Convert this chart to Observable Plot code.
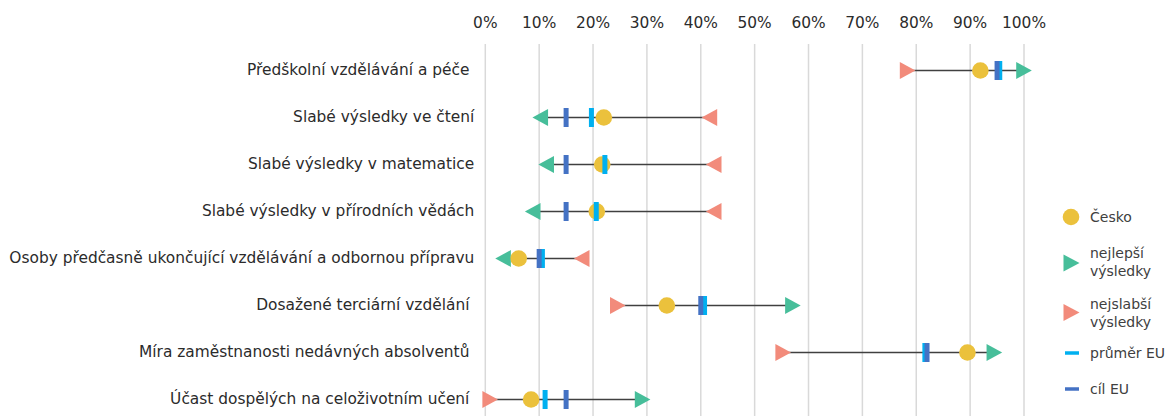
<!DOCTYPE html>
<html><head><meta charset="utf-8">
<script src="https://cdn.jsdelivr.net/npm/d3@7"></script>
<script src="https://cdn.jsdelivr.net/npm/@observablehq/plot@0.6"></script>
<style>
body{margin:0;background:#fff;}
#wrap{position:relative;width:1168px;height:416px;overflow:hidden;}
#legend{position:absolute;left:0;top:0;}
</style></head><body><div id="wrap"></div>
<script>
const categories = [
  "Předškolní vzdělávání a péče\u00a0",
  "Slabé výsledky ve čtení",
  "Slabé výsledky v matematice",
  "Slabé výsledky v přírodních vědách",
  "Osoby předčasně ukončující vzdělávání a odbornou přípravu",
  "Dosažené terciární vzdělání\u00a0",
  "Míra zaměstnanosti nedávných absolventů\u00a0",
  "Účast dospělých na celoživotním učení\u00a0"
];
const cesko     = [91.9, 22.0, 21.7, 20.7, 6.2, 33.7, 89.5, 8.5];
const nejlepsi  = [100, 10.2, 11.3, 8.8, 3.3, 57.1, 94.5, 29.2];
const nejslabsi = [78.4, 41.6, 42.4, 42.4, 17.9, 24.6, 55.3, 0.9];
const prumerEU  = [95.5, 19.7, 22.2, 20.6, 10.6, 40.7, 81.6, 11.1];
const cilEU     = [95, 15, 15, 15, 10, 40, 82, 15];
const xTicks    = [0, 10, 20, 30, 40, 50, 60, 70, 80, 90, 100];
const seriesNames = ["Česko", "nejlepší výsledky", "nejslabší výsledky", "průměr EU", "cíl EU"];

const colors = {cz:"#EBC13C", best:"#47BE9A", worst:"#F28B7B", avg:"#00B0F0", target:"#4472C4"};

const data = categories.map((c, i) => ({cat:c, cz:cesko[i], best:nejlepsi[i], worst:nejslabsi[i], avg:prumerEU[i], target:cilEU[i]}));

function tri(dir) {
  return {draw(ctx, size) {
    const r = Math.sqrt(size / Math.PI), w = r * 1.95, h = r * 2.1;
    ctx.moveTo(dir * w / 2, 0);
    ctx.lineTo(-dir * w / 2, -h / 2);
    ctx.lineTo(-dir * w / 2, h / 2);
    ctx.closePath();
  }};
}
const bar = {draw(ctx, size) { const w = 5, h = 19; ctx.rect(-w / 2, -h / 2, w, h); }};

const up = data.filter(d => d.best > d.worst);
const down = data.filter(d => d.best <= d.worst);

const chart = Plot.plot({
  width: 1168, height: 416,
  marginLeft: 484.8, marginRight: 144.5, marginTop: 44, marginBottom: 0,
  style: {fontFamily: "DejaVu Sans", fontSize: "15.4px", color: "#2b2b2b", background: "#fff"},
  x: {domain: [0, 100], axis: null},
  y: {type: "point", domain: categories, padding: 0.4217, align: 0.6, axis: null},
  marks: [
    Plot.gridX(xTicks, {stroke: "#d9d9d9", strokeOpacity: 1, strokeWidth: 1.5}),
    Plot.axisX(xTicks, {anchor: "top", tickSize: 0, tickPadding: 17, tickFormat: d => d + "%", fontSize: 15.4, label: null}),
    Plot.axisY({tickSize: 0, tickPadding: 11, label: null, fontSize: 15.4}),
    Plot.ruleY(data, {y: "cat", x1: "worst", x2: "best", stroke: "#404040", strokeWidth: 1.5}),
    Plot.dot(up, {x: "worst", y: "cat", symbol: tri(1), r: 8, fill: colors.worst}),
    Plot.dot(up, {x: "best", y: "cat", symbol: tri(1), r: 8, fill: colors.best}),
    Plot.dot(down, {x: "worst", y: "cat", symbol: tri(-1), r: 8, fill: colors.worst}),
    Plot.dot(down, {x: "best", y: "cat", symbol: tri(-1), r: 8, fill: colors.best}),
    Plot.dot(data, {x: "cz", y: "cat", r: 8.3, fill: colors.cz}),
    Plot.dot(data, {x: "avg", y: "cat", symbol: bar, fill: colors.avg}),
    Plot.dot(data, {x: "target", y: "cat", symbol: bar, fill: colors.target})
  ]
});
document.getElementById("wrap").appendChild(chart);

// legend
const svg = d3.select("#wrap").append("svg").attr("id", "legend")
  .attr("width", 1168).attr("height", 416)
  .style("font-family", "DejaVu Sans").style("font-size", "14px");
const lx = 1071, tx = 1090;
svg.append("circle").attr("cx", lx).attr("cy", 217).attr("r", 8.3).attr("fill", colors.cz);
const triPath = (cx, cy) => `M${cx + 8},${cy}L${cx - 8},${cy - 8.5}L${cx - 8},${cy + 8.5}Z`;
svg.append("path").attr("d", triPath(lx + 0.5, 263)).attr("fill", colors.best);
svg.append("path").attr("d", triPath(lx + 0.5, 312.5)).attr("fill", colors.worst);
svg.append("line").attr("x1", 1065).attr("x2", 1079).attr("y1", 353).attr("y2", 353).attr("stroke", colors.avg).attr("stroke-width", 3.5);
svg.append("line").attr("x1", 1065).attr("x2", 1079).attr("y1", 389).attr("y2", 389).attr("stroke", colors.target).attr("stroke-width", 3.5);
const legendText = [
  [seriesNames[0], 217],
  ["nejlepší", 253], ["výsledky", 271],
  ["nejslabší", 304], ["výsledky", 322],
  [seriesNames[3], 353],
  [seriesNames[4], 389]
];
legendText.forEach(([t, y]) => {
  svg.append("text").attr("x", tx).attr("y", y).attr("dy", "0.35em").attr("fill", "#404040").text(t);
});
</script>
</body></html>
